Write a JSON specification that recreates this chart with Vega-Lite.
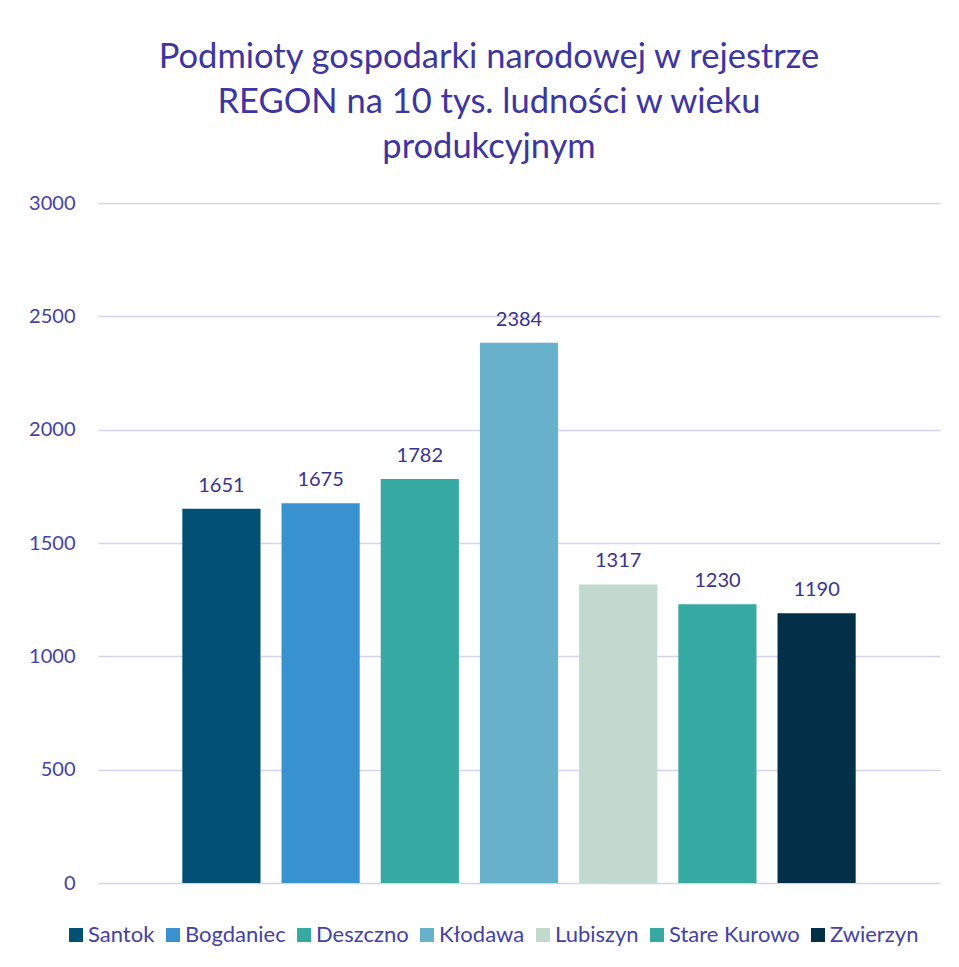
{
  "$schema": "https://vega.github.io/schema/vega-lite/v6.json",
  "autosize": {"type": "none"},
  "width": 842,
  "height": 680,
  "padding": {"left": 98, "top": 203, "right": 19, "bottom": 84},
  "background": "white",
  "title": {
    "text": ["Podmioty gospodarki narodowej w rejestrze", "REGON na 10 tys. ludności w wieku", "produkcyjnym"],
    "font": "Lato",
    "fontSize": 34.5,
    "fontWeight": "normal",
    "lineHeight": 45,
    "color": "#3D35A2",
    "anchor": "middle",
    "frame": "group",
    "dx": -30,
    "offset": 28
  },
  "data": {
    "values": [
      {"gmina": "Santok", "value": 1651},
      {"gmina": "Bogdaniec", "value": 1675},
      {"gmina": "Deszczno", "value": 1782},
      {"gmina": "Kłodawa", "value": 2384},
      {"gmina": "Lubiszyn", "value": 1317},
      {"gmina": "Stare Kurowo", "value": 1230},
      {"gmina": "Zwierzyn", "value": 1190}
    ]
  },
  "encoding": {
    "x": {
      "field": "gmina",
      "type": "nominal",
      "sort": null,
      "axis": null,
      "scale": {"paddingInner": 0.212, "paddingOuter": 0.85}
    },
    "y": {
      "field": "value",
      "type": "quantitative",
      "scale": {"domain": [0, 3000], "nice": false},
      "axis": {
        "values": [0, 500, 1000, 1500, 2000, 2500, 3000],
        "format": "d",
        "title": null,
        "domain": false,
        "ticks": false,
        "grid": true,
        "gridColor": "#D6D2F2",
        "gridWidth": 1.5,
        "labelFont": "Lato",
        "labelFontSize": 20,
        "labelColor": "#4541A8",
        "labelPadding": 23
      }
    }
  },
  "layer": [
    {
      "mark": {"type": "bar"},
      "encoding": {
        "color": {
          "field": "gmina",
          "type": "nominal",
          "sort": null,
          "scale": {
            "domain": ["Santok", "Bogdaniec", "Deszczno", "Kłodawa", "Lubiszyn", "Stare Kurowo", "Zwierzyn"],
            "range": ["#035075", "#3892CF", "#36AAA2", "#67B2CA", "#C2DACD", "#36AAA2", "#032F47"]
          },
          "legend": {
            "title": null,
            "orient": "none",
            "legendX": -33,
            "legendY": 721,
            "direction": "horizontal",
            "symbolType": "square",
            "symbolSize": 196,
            "symbolStrokeWidth": 0,
            "labelFont": "Lato",
            "labelFontSize": 22,
            "labelColor": "#4541A8",
            "labelOffset": 1,
            "columnPadding": 7,
            "labelLimit": 300
          }
        }
      }
    },
    {
      "mark": {
        "type": "text",
        "baseline": "alphabetic",
        "dy": -17,
        "font": "Lato",
        "fontSize": 20,
        "color": "#38338F"
      },
      "encoding": {
        "text": {"field": "value", "type": "quantitative", "format": "d"}
      }
    }
  ],
  "config": {
    "view": {"stroke": null}
  }
}
